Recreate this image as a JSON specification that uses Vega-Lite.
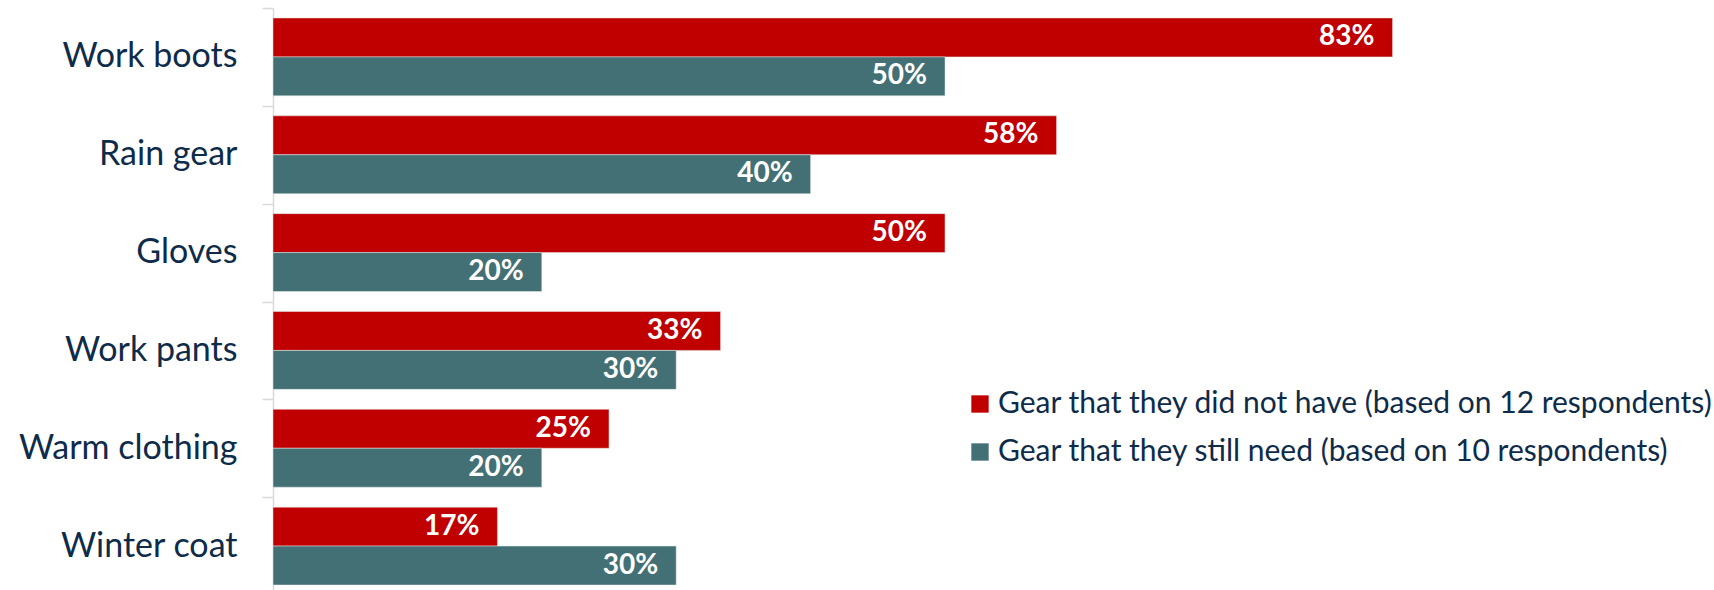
{
  "$schema": "https://vega.github.io/schema/vega-lite/v6.json",
  "width": 1344,
  "height": 582,
  "autosize": {"type": "none"},
  "padding": {"left": 273, "top": 8, "right": 97, "bottom": 0},
  "background": "white",
  "data": {
    "values": [
      {"item": "Work boots", "series": "Gear that they did not have (based on 12 respondents)", "value": 0.833},
      {"item": "Work boots", "series": "Gear that they still need (based on 10 respondents)", "value": 0.5},
      {"item": "Rain gear", "series": "Gear that they did not have (based on 12 respondents)", "value": 0.583},
      {"item": "Rain gear", "series": "Gear that they still need (based on 10 respondents)", "value": 0.4},
      {"item": "Gloves", "series": "Gear that they did not have (based on 12 respondents)", "value": 0.5},
      {"item": "Gloves", "series": "Gear that they still need (based on 10 respondents)", "value": 0.2},
      {"item": "Work pants", "series": "Gear that they did not have (based on 12 respondents)", "value": 0.333},
      {"item": "Work pants", "series": "Gear that they still need (based on 10 respondents)", "value": 0.3},
      {"item": "Warm clothing", "series": "Gear that they did not have (based on 12 respondents)", "value": 0.25},
      {"item": "Warm clothing", "series": "Gear that they still need (based on 10 respondents)", "value": 0.2},
      {"item": "Winter coat", "series": "Gear that they did not have (based on 12 respondents)", "value": 0.167},
      {"item": "Winter coat", "series": "Gear that they still need (based on 10 respondents)", "value": 0.3}
    ]
  },
  "encoding": {
    "y": {
      "field": "item",
      "type": "nominal",
      "sort": null,
      "scale": {"paddingInner": 0, "paddingOuter": 0, "range": [0, 587]},
      "axis": {
        "title": null,
        "domainColor": "#D9D9D9",
        "domainWidth": 1.5,
        "tickColor": "#D9D9D9",
        "tickWidth": 1.5,
        "tickSize": 11,
        "tickBand": "extent",
        "labelPadding": 25,
        "labelLimit": 0,
        "labelFont": "Lato",
        "labelFontSize": 34,
        "labelColor": "#0E2B4A",
        "grid": false
      }
    },
    "yOffset": {
      "field": "series",
      "type": "nominal",
      "sort": null,
      "scale": {"paddingInner": 0, "paddingOuter": 0.256}
    },
    "x": {
      "field": "value",
      "type": "quantitative",
      "scale": {"domain": [0, 1], "nice": false},
      "axis": null
    }
  },
  "layer": [
    {
      "mark": {"type": "bar", "stroke": "#E8E8E8", "strokeWidth": 0.5},
      "encoding": {
        "color": {
          "field": "series",
          "type": "nominal",
          "sort": null,
          "scale": {"range": ["#C00000", "#427075"]},
          "legend": {
            "title": null,
            "orient": "none",
            "legendX": 692,
            "legendY": 381,
            "symbolType": "square",
            "symbolSize": 300,
            "symbolStrokeWidth": 0,
            "symbolOpacity": 1,
            "labelFont": "Lato",
            "labelFontSize": 30,
            "labelColor": "#0E2B4A",
            "labelOffset": 3,
            "labelLimit": 0,
            "rowPadding": 18
          }
        }
      }
    },
    {
      "mark": {
        "type": "text",
        "align": "right",
        "baseline": "middle",
        "dx": -18,
        "font": "Lato",
        "fontSize": 28,
        "fontWeight": "bold",
        "color": "white"
      },
      "encoding": {
        "text": {"field": "value", "type": "quantitative", "format": ".0%"}
      }
    }
  ],
  "config": {"view": {"stroke": null}}
}
